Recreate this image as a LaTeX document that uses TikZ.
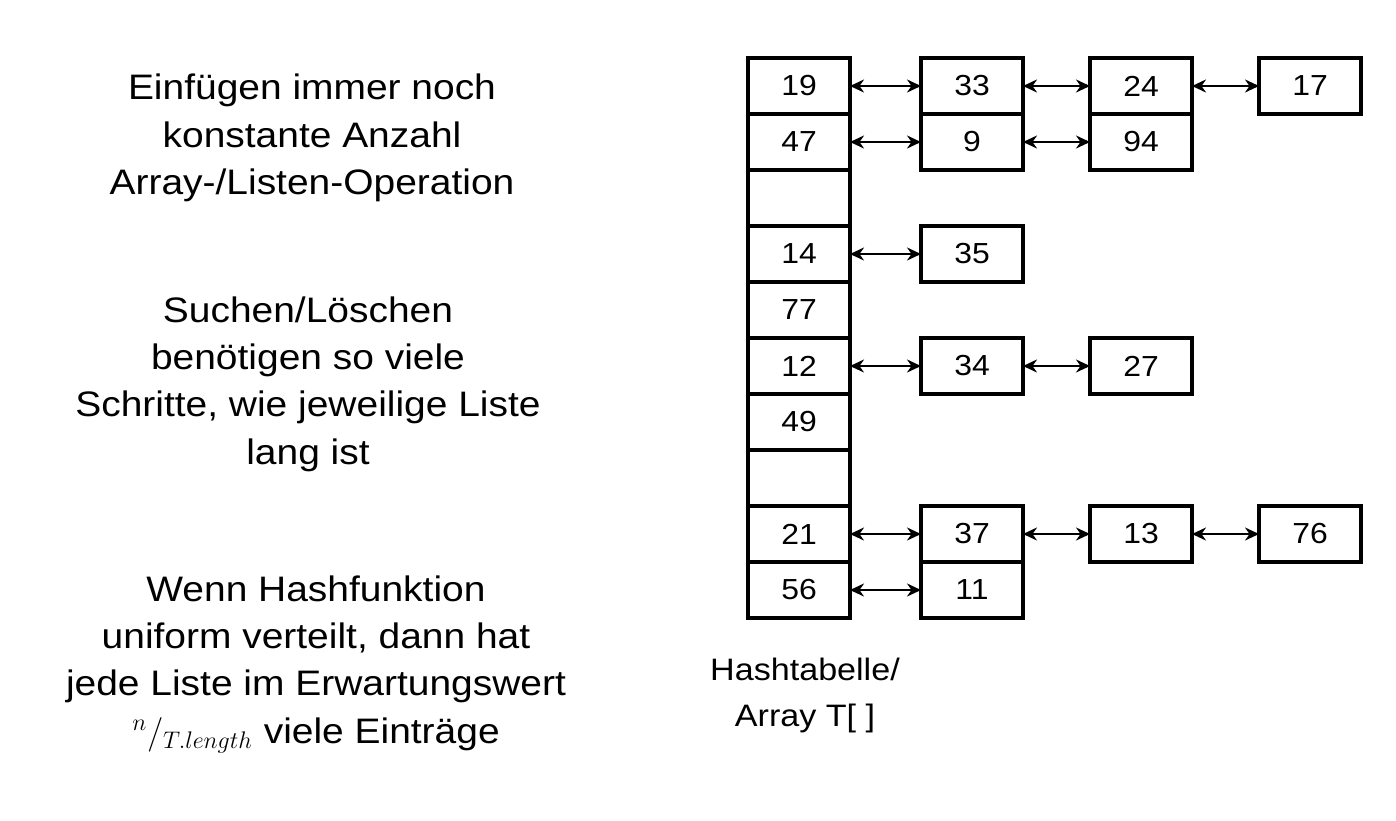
\documentclass[tikz,border=0pt]{standalone}
\usepackage{fontspec}
\setmainfont[FakeStretch=1.1]{Liberation Sans}
\usetikzlibrary{arrows.meta,positioning}

\tikzset{
  cell/.style={draw,line width=1.9pt,minimum width=51pt,minimum height=28pt,
    inner sep=0pt,outer sep=0pt,font=\fontsize{14.5}{17}\selectfont},
  link/.style={{Stealth[length=7pt,width=6.5pt]}-{Stealth[length=7pt,width=6.5pt]},line width=1.2pt},
  note/.style={align=center,font=\fontsize{17.7}{23.7}\selectfont}
}

\begin{document}
\begin{tikzpicture}[x=0.5pt,y=-0.5pt]
    \useasboundingbox (0,0) rectangle (1396,820);

    % notes on the left
    \node[note] (einf) at (312,138) {Einfügen immer noch\\konstante Anzahl\\Array-/Listen-Operation};
    \node[note] (such) at (308,384) {Suchen/Löschen\\benötigen so viele\\Schritte, wie jeweilige Liste\\lang ist};
    \node[note] (wenn) at (316,663) {Wenn Hashfunktion\\uniform verteilt, dann hat\\jede Liste im Erwartungswert\\\smash{${}^{n}/_{T.length}$} viele Einträge};

    % array T[] as a column of cells
    \node[cell] (t0) at (799,86) {19};
    \node[cell,below=0pt of t0] (t1) {47};
    \node[cell,below=0pt of t1] (t2) {};
    \node[cell,below=0pt of t2] (t3) {14};
    \node[cell,below=0pt of t3] (t4) {77};
    \node[cell,below=0pt of t4] (t5) {12};
    \node[cell,below=0pt of t5] (t6) {49};
    \node[cell,below=0pt of t6] (t7) {};
    \node[cell,below=0pt of t7] (t8) {21};
    \node[cell,below=0pt of t8] (t9) {56};

    % label under the array
    \node[align=center,font=\fontsize{15.5}{23}\selectfont] (name) at (805,695) {Hashtabelle/\\Array T[ ]};

    % row 0: 33, 24, 17
    \node[cell,right=35.5pt of t0] (a0) {33};
    \node[cell,right=33.5pt of a0] (a1) {24};
    \node[cell,right=33.5pt of a1] (a2) {17};
    % row 1: 9, 94
    \node[cell,right=35.5pt of t1] (b0) {9};
    \node[cell,right=33.5pt of b0] (b1) {94};
    % row 3: 35
    \node[cell,right=35.5pt of t3] (c0) {35};
    % row 5: 34, 27
    \node[cell,right=35.5pt of t5] (d0) {34};
    \node[cell,right=33.5pt of d0] (d1) {27};
    % row 8: 37, 13, 76
    \node[cell,right=35.5pt of t8] (e0) {37};
    \node[cell,right=33.5pt of e0] (e1) {13};
    \node[cell,right=33.5pt of e1] (e2) {76};
    % row 9: 11
    \node[cell,right=35.5pt of t9] (f0) {11};

    % double links
    \draw[link] (t0) -- (a0);
    \draw[link] (a0) -- (a1);
    \draw[link] (a1) -- (a2);
    \draw[link] (t1) -- (b0);
    \draw[link] (b0) -- (b1);
    \draw[link] (t3) -- (c0);
    \draw[link] (t5) -- (d0);
    \draw[link] (d0) -- (d1);
    \draw[link] (t8) -- (e0);
    \draw[link] (e0) -- (e1);
    \draw[link] (e1) -- (e2);
    \draw[link] (t9) -- (f0);
\end{tikzpicture}
\end{document}
